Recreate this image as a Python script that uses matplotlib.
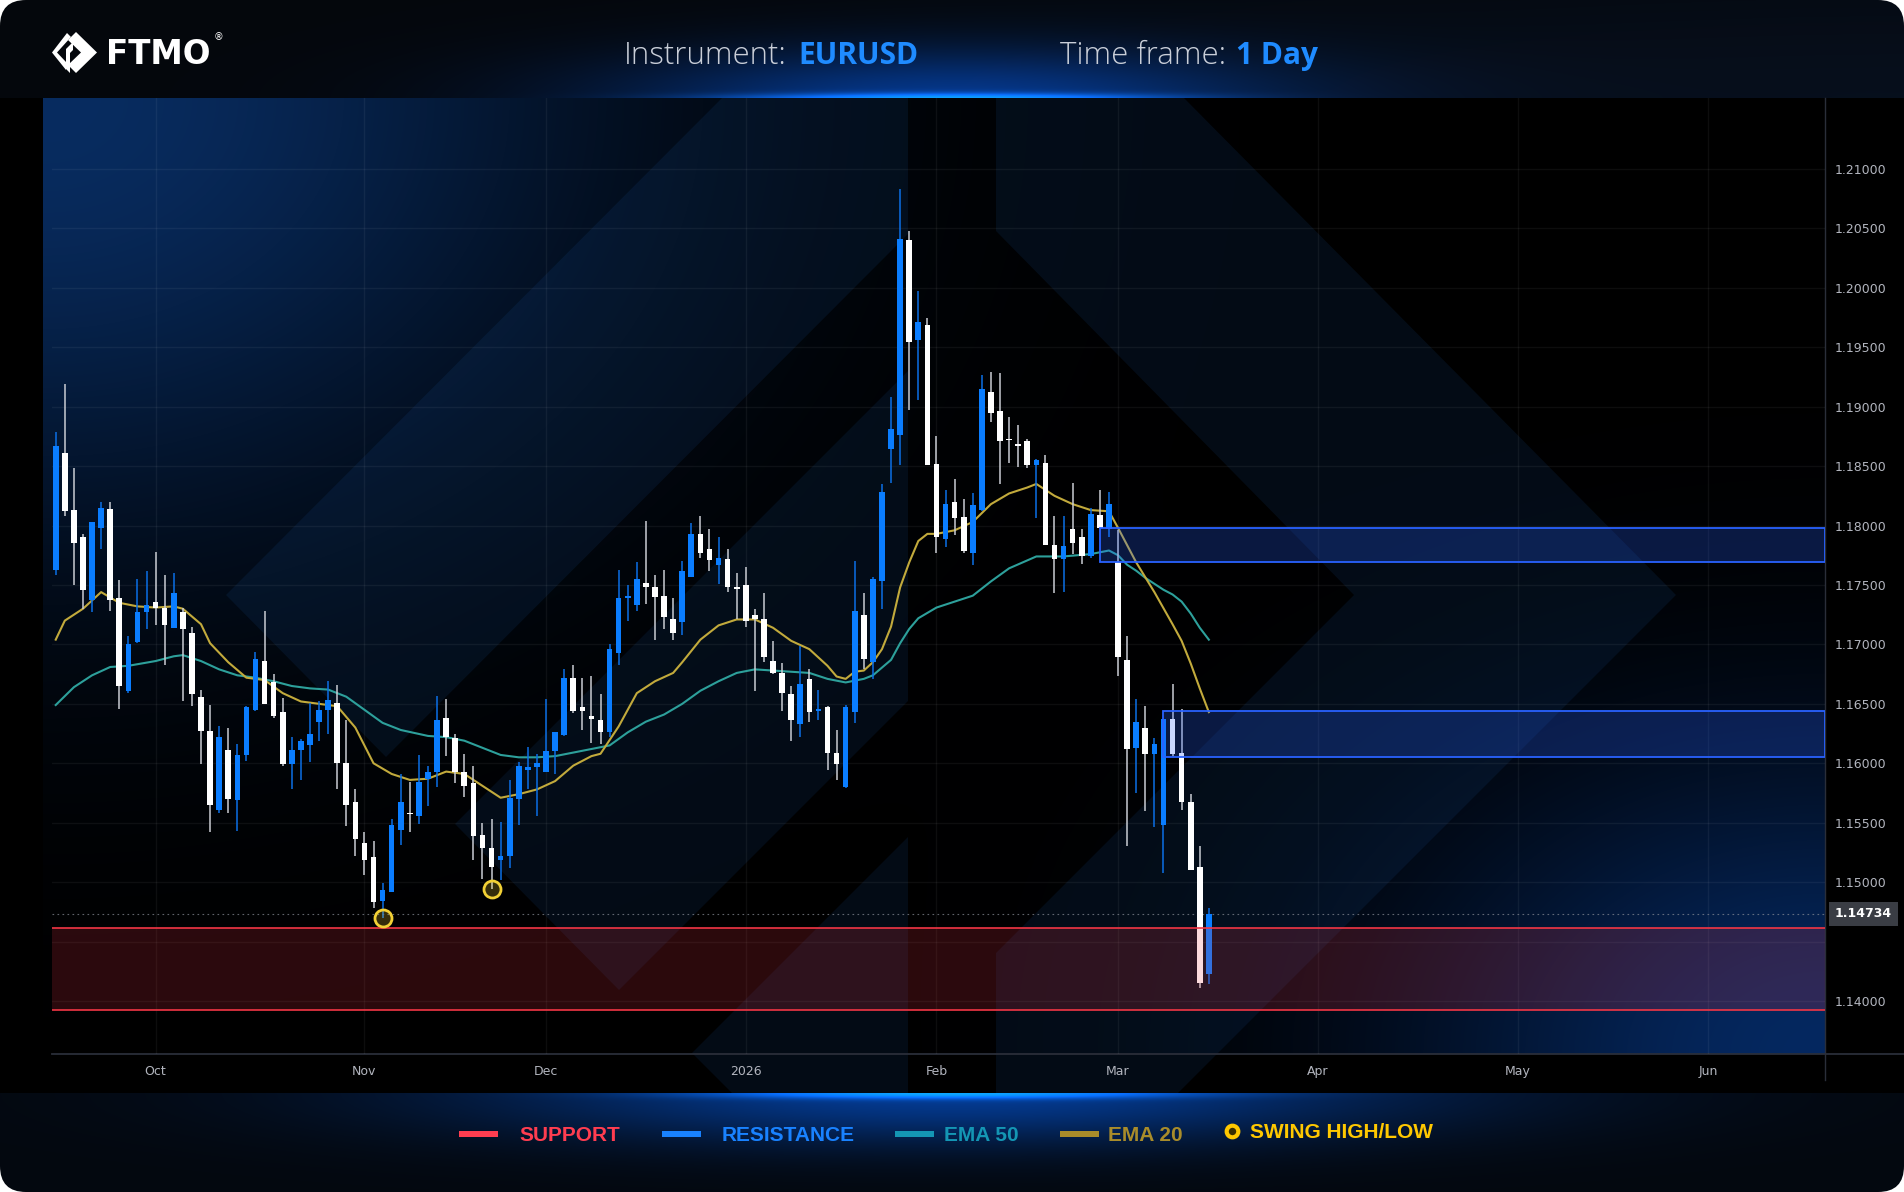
import numpy as np
import pandas as pd
import matplotlib
matplotlib.use('Agg')
import matplotlib.pyplot as plt
from matplotlib.patches import Polygon, Rectangle, FancyBboxPatch

W, H = 1904, 1192

# Daily EURUSD candles (first candle = 2025-09-16)
opens = [
    1.1763, 1.1861, 1.1813, 1.1790, 1.1737, 1.1798, 1.1814, 1.1739, 1.1661, 1.1702,
    1.1727, 1.1736, 1.1731, 1.1714, 1.1727, 1.1710, 1.1656, 1.1627, 1.1561, 1.1611,
    1.1569, 1.1607, 1.1645, 1.1686, 1.1668, 1.1643, 1.1599, 1.1611, 1.1615, 1.1635,
    1.1645, 1.1651, 1.1600, 1.1567, 1.1533, 1.1521, 1.1484, 1.1492, 1.1544, 1.1558,
    1.1556, 1.1587, 1.1593, 1.1638, 1.1621, 1.1593, 1.1583, 1.1540, 1.1529, 1.1519,
    1.1522, 1.1570, 1.1594, 1.1597, 1.1593, 1.1610, 1.1624, 1.1672, 1.1647, 1.1640,
    1.1636, 1.1626, 1.1693, 1.1739, 1.1733, 1.1752, 1.1748, 1.1741, 1.1721, 1.1719,
    1.1757, 1.1793, 1.1780, 1.1767, 1.1772, 1.1748, 1.1750, 1.1725, 1.1721, 1.1686,
    1.1676, 1.1658, 1.1633, 1.1671, 1.1644, 1.1647, 1.1609, 1.1580, 1.1643, 1.1725,
    1.1685, 1.1753, 1.1864, 1.1876, 1.2040, 1.1956, 1.1969, 1.1852, 1.1789, 1.1820,
    1.1807, 1.1777, 1.1813, 1.1912, 1.1896, 1.1873, 1.1869, 1.1871, 1.1851, 1.1853,
    1.1784, 1.1772, 1.1797, 1.1790, 1.1774, 1.1809, 1.1797, 1.1769, 1.1687, 1.1613,
    1.1630, 1.1608, 1.1548, 1.1637, 1.1609, 1.1567, 1.1513, 1.1423]
highs = [
    1.1879, 1.1919, 1.1848, 1.1793, 1.1803, 1.1820, 1.1820, 1.1754, 1.1707, 1.1755,
    1.1762, 1.1778, 1.1758, 1.1760, 1.1731, 1.1715, 1.1662, 1.1649, 1.1631, 1.1630,
    1.1616, 1.1648, 1.1694, 1.1728, 1.1675, 1.1655, 1.1622, 1.1620, 1.1651, 1.1652,
    1.1669, 1.1666, 1.1636, 1.1578, 1.1542, 1.1535, 1.1499, 1.1553, 1.1591, 1.1584,
    1.1607, 1.1598, 1.1657, 1.1654, 1.1625, 1.1608, 1.1598, 1.1550, 1.1553, 1.1551,
    1.1586, 1.1601, 1.1614, 1.1608, 1.1654, 1.1626, 1.1679, 1.1683, 1.1672, 1.1673,
    1.1658, 1.1700, 1.1763, 1.1750, 1.1769, 1.1804, 1.1758, 1.1763, 1.1739, 1.1770,
    1.1802, 1.1808, 1.1797, 1.1790, 1.1780, 1.1760, 1.1765, 1.1730, 1.1743, 1.1703,
    1.1684, 1.1665, 1.1699, 1.1679, 1.1662, 1.1648, 1.1628, 1.1649, 1.1770, 1.1743,
    1.1757, 1.1835, 1.1908, 1.2083, 1.2048, 1.1997, 1.1975, 1.1875, 1.1830, 1.1839,
    1.1822, 1.1827, 1.1927, 1.1929, 1.1928, 1.1891, 1.1885, 1.1873, 1.1856, 1.1859,
    1.1808, 1.1808, 1.1836, 1.1797, 1.1815, 1.1830, 1.1828, 1.1796, 1.1707, 1.1654,
    1.1648, 1.1621, 1.1637, 1.1667, 1.1646, 1.1574, 1.1530, 1.1478]
lows = [
    1.1758, 1.1808, 1.1750, 1.1730, 1.1727, 1.1780, 1.1728, 1.1646, 1.1659, 1.1701,
    1.1713, 1.1716, 1.1683, 1.1714, 1.1652, 1.1648, 1.1599, 1.1542, 1.1558, 1.1558,
    1.1543, 1.1602, 1.1644, 1.1650, 1.1638, 1.1598, 1.1578, 1.1586, 1.1601, 1.1619,
    1.1625, 1.1578, 1.1547, 1.1522, 1.1506, 1.1478, 1.1470, 1.1492, 1.1531, 1.1542,
    1.1549, 1.1564, 1.1580, 1.1606, 1.1583, 1.1572, 1.1519, 1.1503, 1.1494, 1.1502,
    1.1512, 1.1548, 1.1578, 1.1556, 1.1593, 1.1591, 1.1623, 1.1642, 1.1628, 1.1617,
    1.1616, 1.1622, 1.1683, 1.1720, 1.1728, 1.1734, 1.1704, 1.1713, 1.1704, 1.1708,
    1.1757, 1.1773, 1.1762, 1.1751, 1.1744, 1.1721, 1.1715, 1.1661, 1.1685, 1.1675,
    1.1644, 1.1619, 1.1622, 1.1635, 1.1636, 1.1594, 1.1586, 1.1579, 1.1634, 1.1679,
    1.1671, 1.1730, 1.1836, 1.1851, 1.1897, 1.1906, 1.1851, 1.1777, 1.1782, 1.1792,
    1.1777, 1.1767, 1.1812, 1.1887, 1.1835, 1.1853, 1.1849, 1.1848, 1.1806, 1.1784,
    1.1743, 1.1744, 1.1776, 1.1768, 1.1773, 1.1798, 1.1790, 1.1673, 1.1530, 1.1575,
    1.1560, 1.1546, 1.1508, 1.1606, 1.1561, 1.1510, 1.1411, 1.1414]
closes = [
    1.1867, 1.1812, 1.1785, 1.1746, 1.1803, 1.1815, 1.1737, 1.1665, 1.1700, 1.1727,
    1.1733, 1.1731, 1.1716, 1.1743, 1.1713, 1.1658, 1.1627, 1.1565, 1.1622, 1.1570,
    1.1607, 1.1647, 1.1688, 1.1650, 1.1640, 1.1599, 1.1611, 1.1619, 1.1625, 1.1645,
    1.1653, 1.1600, 1.1565, 1.1536, 1.1519, 1.1483, 1.1493, 1.1548, 1.1567, 1.1557,
    1.1584, 1.1593, 1.1636, 1.1622, 1.1593, 1.1581, 1.1539, 1.1529, 1.1513, 1.1522,
    1.1571, 1.1598, 1.1597, 1.1600, 1.1610, 1.1626, 1.1672, 1.1644, 1.1644, 1.1637,
    1.1626, 1.1696, 1.1739, 1.1741, 1.1755, 1.1748, 1.1740, 1.1723, 1.1710, 1.1762,
    1.1793, 1.1777, 1.1771, 1.1773, 1.1748, 1.1747, 1.1720, 1.1721, 1.1689, 1.1676,
    1.1659, 1.1636, 1.1667, 1.1643, 1.1646, 1.1609, 1.1599, 1.1647, 1.1728, 1.1688,
    1.1755, 1.1828, 1.1881, 1.2041, 1.1954, 1.1971, 1.1851, 1.1790, 1.1818, 1.1806,
    1.1779, 1.1817, 1.1915, 1.1895, 1.1871, 1.1872, 1.1867, 1.1851, 1.1855, 1.1784,
    1.1772, 1.1783, 1.1785, 1.1774, 1.1810, 1.1798, 1.1818, 1.1689, 1.1612, 1.1635,
    1.1608, 1.1616, 1.1637, 1.1608, 1.1567, 1.1510, 1.1415, 1.14734]

# EMA values read at a set of candles (candle number, 1 = first candle)
ema20_at = [1, 2, 4, 6, 8, 10, 12, 14, 15, 17, 18, 20, 22, 24, 26, 28, 30, 32, 34, 36,
            38, 40, 42, 44, 46, 48, 50, 52, 54, 56, 58, 60, 61, 63, 65, 67, 69, 70, 72, 74,
            76, 78, 80, 82, 84, 86, 87, 88, 89, 90, 91, 92, 93, 94, 95, 96, 97, 98, 100, 102,
            104, 106, 108, 109, 111, 113, 115, 117, 118, 120, 122, 124, 125, 126, 127, 128]
ema20 = [1.1704, 1.1720, 1.1730, 1.1744, 1.1735, 1.1732, 1.1731, 1.1732, 1.1730, 1.1717,
         1.1701, 1.1685, 1.1672, 1.1670, 1.1659, 1.1652, 1.1650, 1.1648, 1.1630, 1.1600,
         1.1591, 1.1586, 1.1587, 1.1593, 1.1591, 1.1581, 1.1571, 1.1574, 1.1578, 1.1585,
         1.1598, 1.1606, 1.1608, 1.1631, 1.1659, 1.1669, 1.1676, 1.1685, 1.1704, 1.1716,
         1.1721, 1.1721, 1.1714, 1.1703, 1.1696, 1.1682, 1.1673, 1.1671, 1.1677, 1.1678,
         1.1685, 1.1696, 1.1715, 1.1748, 1.1769, 1.1787, 1.1793, 1.1793, 1.1796, 1.1803,
         1.1818, 1.1827, 1.1832, 1.1835, 1.1825, 1.1818, 1.1813, 1.1812, 1.1798, 1.1769,
         1.1744, 1.1717, 1.1703, 1.1684, 1.1663, 1.1643]
ema50_at = [1, 3, 5, 7, 9, 12, 14, 15, 17, 19, 21, 23, 25, 27, 29, 31, 33, 35, 37, 39,
            42, 44, 46, 48, 50, 52, 54, 56, 58, 60, 62, 64, 66, 68, 70, 72, 74, 76, 78, 80,
            82, 84, 86, 88, 90, 91, 93, 94, 95, 96, 98, 100, 102, 104, 106, 109, 112, 115, 117, 118,
            119, 120, 121, 123, 124, 125, 126, 127, 128]
ema50 = [1.1649, 1.1664, 1.1674, 1.1681, 1.1682, 1.1686, 1.1690, 1.1691, 1.1686, 1.1679,
         1.1674, 1.1672, 1.1669, 1.1665, 1.1663, 1.1662, 1.1656, 1.1645, 1.1634, 1.1628,
         1.1623, 1.1622, 1.1619, 1.1613, 1.1607, 1.1605, 1.1605, 1.1606, 1.1609, 1.1612,
         1.1615, 1.1626, 1.1635, 1.1641, 1.1650, 1.1661, 1.1669, 1.1676, 1.1679, 1.1678,
         1.1677, 1.1676, 1.1671, 1.1668, 1.1671, 1.1674, 1.1687, 1.1701, 1.1713, 1.1722,
         1.1731, 1.1736, 1.1741, 1.1753, 1.1764, 1.1774, 1.1774, 1.1776, 1.1779, 1.1775,
         1.1767, 1.1762, 1.1756, 1.1746, 1.1742, 1.1736, 1.1726, 1.1714, 1.1704]

support = (1.1392, 1.1461)
resistance = [(1.1769, 1.1798), (1.1605, 1.1644)]
resistance_from = [116, 123]    # candle number where each zone starts
swing_lows = [37, 49]           # candle numbers
last_price = 1.14734

BLUE = '#0a7dff'

# trading days (no Dec 25 / Jan 1), extended into the future for the axis
days = pd.bdate_range('2025-09-16', '2026-06-30')
days = days[~days.isin(pd.to_datetime(['2025-12-25', '2026-01-01']))]
month_pos = [i for i in range(1, len(days)) if days[i].month != days[i - 1].month]
month_lab = [str(days[i].year) if days[i].month == 1 else days[i].strftime('%b') for i in month_pos]

# ---- background (pixel coordinates) ----
yy, xx = np.mgrid[0:H, 0:W].astype(float)

def glow(cx, cy, sx, sy):
    return np.exp(-((xx - cx) / sx) ** 2 - ((yy - cy) / sy) ** 2)[..., None]

img = np.zeros((H, W, 3))
head = (yy < 98)[..., None]
img += head * (np.array([4, 7, 12]) + glow(1904, 98, 900, 120) * [3, 8, 16]
               + glow(950, 98, 340, 50) * [0, 45, 120] + glow(950, 98, 200, 5) * [10, 110, 230])
panel = ((xx >= 43) & (xx < 1825) & (yy >= 98) & (yy < 1054))[..., None]
img += panel * (glow(43, 98, 560, 430) * [8, 44, 96] + glow(1825, 1054, 420, 300) * [5, 40, 96])
foot = (yy >= 1093)[..., None]
img += foot * (np.array([3, 8, 15]) + glow(950, 1093, 480, 50) * [0, 50, 130]
               + glow(950, 1093, 220, 5) * [10, 110, 230])
img = np.clip(img / 255, 0, 1)

fig = plt.figure(figsize=(W / 100, H / 100), dpi=100, facecolor='white')
bg = fig.add_axes([0, 0, 1, 1])
bg.axis('off')
im = bg.imshow(img, extent=(0, W, H, 0), aspect='auto', interpolation='bilinear', zorder=0)
bg.set_xlim(0, W)
bg.set_ylim(H, 0)
card = FancyBboxPatch((0, 0), W, H, boxstyle='round,pad=0,rounding_size=26', transform=bg.transData)
im.set_clip_path(card)

# big logo shapes behind the chart
shapes = [
    [(226, 595), (722, 98), (908, 98), (908, 234), (386, 757)],
    [(455, 824), (908, 371), (908, 701), (619, 990)],
    [(692, 1053), (908, 837), (908, 1093), (732, 1093)],
    [(996, 98), (1184, 98), (1676, 595), (1178, 1093), (996, 1093), (996, 953), (1354, 595), (996, 231)],
]
for s in shapes:
    bg.add_patch(Polygon(s, closed=True, fc='#1c5fb0', ec='none', alpha=0.12, zorder=1))

bg.plot([52, W], [1054, 1054], color='#2a2e39', lw=1.3, zorder=2)
bg.plot([1825, 1825], [98, 1080], color='#2a2e39', lw=1.0, zorder=2)

# header: logo + title
for p in [[(76, 32), (97, 52.5), (76, 73), (68, 65), (81, 52.5), (68, 40)],
          [(67, 33), (71, 37), (57, 52.5), (66, 62), (66, 70), (52, 52.5)],
          [(73, 42), (73, 50), (70, 53), (70, 73), (66, 69), (66, 49)]]:
    bg.add_patch(Polygon(p, closed=True, fc='white', ec='none', zorder=3))
bg.text(106, 64, 'FTMO', color='white', fontsize=23.5, family='DejaVu Sans',
        fontweight='bold', ha='left', va='baseline')
bg.text(214, 40, '®', color='white', fontsize=7, ha='left', va='baseline')

hfont = ['Open Sans', 'DejaVu Sans']
bg.text(787, 64, 'Instrument:', color='#c9ced8', fontsize=22.5, family=hfont, fontweight='light',
        ha='right', va='baseline')
bg.text(798, 64, 'EURUSD', color='#1f8bff', fontsize=21.5, family=hfont, fontweight='bold',
        ha='left', va='baseline')
bg.text(1226, 64, 'Time frame:', color='#c9ced8', fontsize=22.5, family=hfont, fontweight='light',
        ha='right', va='baseline')
bg.text(1236, 64, '1 Day', color='#1f8bff', fontsize=21.5, family=hfont, fontweight='bold',
        ha='left', va='baseline')

# footer legend
lfont = ['Liberation Sans', 'DejaVu Sans']
items = [('SUPPORT', '#ff3d50', 459, 519), ('RESISTANCE', '#1982ff', 662, 722),
         ('EMA 50', '#1496b4', 895, 944), ('EMA 20', '#a98c2a', 1060, 1108)]
for label, col, bx, tx in items:
    bg.add_patch(Rectangle((bx, 1131), 39, 6, fc=col, ec='none', zorder=3))
    bg.text(tx, 1141, label, color=col, fontsize=15, family=lfont, fontweight='bold',
            ha='left', va='baseline')
bg.scatter([1232], [1131], s=70, facecolor='#3a2f00', edgecolor='#ffc800', linewidth=3, zorder=3)
bg.text(1250, 1138, 'SWING HIGH/LOW', color='#ffc800', fontsize=15, family=lfont,
        fontweight='bold', ha='left', va='baseline')

# ---- price chart ----
ax = fig.add_axes([52 / W, 1 - 1054 / H, (1825 - 52) / W, (1054 - 98) / H])
ax.patch.set_alpha(0)
for sp in ax.spines.values():
    sp.set_visible(False)

o, h, l, c = map(np.array, (opens, highs, lows, closes))
x = np.arange(len(c))
up = c >= o
ax.vlines(x, l, h, colors=np.where(up, '#0b6fe6', '#c9ccd3'), lw=1.1, zorder=3)
ax.bar(x, np.maximum(np.abs(c - o), 0.00009), bottom=np.minimum(o, c), width=0.62,
       color=np.where(up, BLUE, '#ffffff'), zorder=4)

ax.plot(np.array(ema50_at) - 1, ema50, color='#2da09b', lw=1.5, zorder=2.5)
ax.plot(np.array(ema20_at) - 1, ema20, color='#c2aa3c', lw=1.5, zorder=2.6)

xmin, xmax = -0.41, 194.86
ax.axhspan(*support, fc='#f23645', alpha=0.18, lw=0, zorder=5)
for v in support:
    ax.axhline(v, color='#f23645', lw=1.2, zorder=5)
for (lo, hi), start in zip(resistance, resistance_from):
    ax.add_patch(Rectangle((start - 1, lo), xmax - start + 1, hi - lo, fc=(0.16, 0.38, 1, 0.25),
                           ec='#2962ff', lw=1.3, zorder=5))

sw = np.array(swing_lows) - 1
ax.scatter(sw, l[sw], s=150, facecolor=(0.95, 0.82, 0.2, 0.22), edgecolor='#f2d035',
           linewidth=2, zorder=6)

ax.axhline(last_price, color='#8a8f99', lw=0.8, ls=(0, (1.5, 3)), alpha=0.7, zorder=1)
ax.text(1 + 10 / 1773, last_price, f'{last_price:.5f}', transform=ax.get_yaxis_transform(),
        ha='left', va='center', color='white', fontsize=9, fontweight='bold',
        bbox=dict(boxstyle='square,pad=0.45', fc='#3a3d44', ec='none'), zorder=7)

ax.set_xlim(xmin, xmax)
ax.set_ylim(1.13554, 1.21597)
price_ticks = np.round(np.arange(1.14, 1.2101, 0.005), 3)
ax.yaxis.tick_right()
ax.set_yticks(price_ticks)
ax.set_yticklabels(['' if abs(p - last_price) < 0.0025 else f'{p:.5f}' for p in price_ticks])
ax.set_xticks(month_pos)
ax.set_xticklabels(month_lab)
ax.tick_params(axis='y', colors='#b2b5be', labelsize=9, length=0, pad=7)
ax.tick_params(axis='x', colors='#b2b5be', labelsize=9, length=0, pad=8)
ax.grid(True, color='white', alpha=0.055, lw=1)
ax.set_axisbelow(True)

fig.savefig('out.png', dpi=100, facecolor='white')
